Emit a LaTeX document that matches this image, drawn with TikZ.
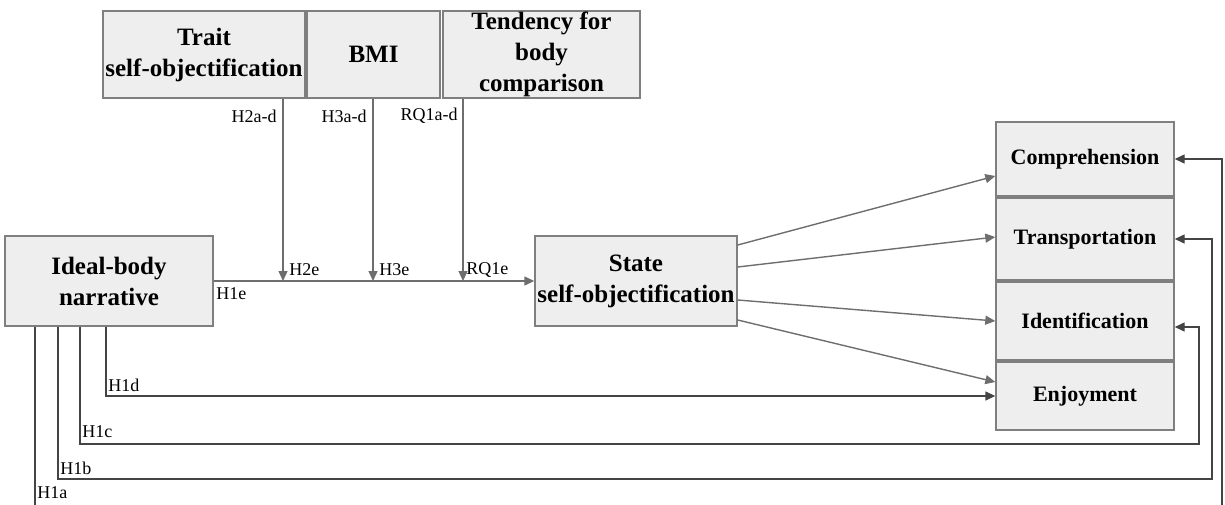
\documentclass[tikz,border=0pt]{standalone}
\usepackage{fontspec}
\setmainfont{Liberation Serif}
\usetikzlibrary{arrows.meta, positioning, calc}
\definecolor{boxfill}{HTML}{EEEEEE}
\definecolor{boxline}{HTML}{7F7F7F}
\definecolor{linegray}{HTML}{6E6E6E}
\definecolor{linedark}{HTML}{444444}
\tikzset{
  varbox/.style = {
    draw       = boxline,
    fill       = boxfill,
    align      = center,
    inner sep  = 0pt,
    line width = 0.7pt,
    font       = \fontsize{12.5}{15.5}\selectfont\bfseries
  },
  outbox/.style = {varbox, minimum width = 89pt, font = \fontsize{11}{13}\selectfont\bfseries},
  hyp/.style    = {inner sep = 1pt, font = \fontsize{9}{10}\selectfont},
  arrow/.style  = {draw = linegray, line width = 0.7pt, -{Triangle[length=5pt, width=4.5pt]}},
  h1path/.style = {arrow, draw = linedark}
}

\begin{document}
\begin{tikzpicture}[x = 0.5pt, y = -0.5pt]
\clip (0,0) rectangle (1225,504);

% Moderators
\node[varbox, minimum width = 101pt, minimum height = 43.5pt] (trait) at (204,54.5) {Trait\\self-objectification};
\node[varbox, minimum width = 66.5pt, minimum height = 43.5pt] (bmi) at (373.5,54.5) {BMI};
\node[varbox, minimum width = 98.5pt, minimum height = 43.5pt] (tendency) at (541.5,54.5) {Tendency for\\body\\comparison};

% Narrative and state
\node[varbox, minimum width = 104pt, minimum height = 45pt] (ideal) at (109,281) {Ideal-body\\narrative};
\node[varbox, minimum width = 101pt, minimum height = 45pt] (state) at (636,281) {State\\self-objectification};

% Outcomes
\node[outbox, minimum height = 37pt] (compr) at (1085,159) {Comprehension};
\node[outbox, minimum height = 41pt] (transp) at (1085,239) {Transportation};
\node[outbox, minimum height = 39pt] (ident) at (1085,321) {Identification};
\node[outbox, minimum height = 34pt] (enjoy) at (1085,396) {Enjoyment};

% Main path with moderators
\coordinate (m2) at (283,281);
\coordinate (m3) at (373,281);
\coordinate (m4) at (463,281);
\draw[arrow] (ideal.east) -- (state.west);
\draw[arrow] (trait.south -| m2) -- (m2);
\draw[arrow] (bmi.south -| m3) -- (m3);
\draw[arrow] (tendency.south -| m4) -- (m4);

\node[hyp, anchor = east] (h2ad) at (279,116) {H2a-d};
\node[hyp, anchor = east] (h3ad) at (369,116) {H3a-d};
\node[hyp, anchor = east] (rq1ad) at (460,116) {RQ1a-d};
\node[hyp, anchor = west] (h2e) at (287,270) {H2e};
\node[hyp, anchor = west] (h3e) at (377,270) {H3e};
\node[hyp, anchor = west] (rq1e) at (464,270) {RQ1e};
\node[hyp, anchor = west] (h1e) at (214,294) {H1e};

% State to outcomes
\draw[arrow] ([yshift=18pt]state.east) -- ([yshift=-8.5pt]compr.west);
\draw[arrow] ([yshift=7pt]state.east) -- ([yshift=1pt]transp.west);
\draw[arrow] ([yshift=-9.5pt]state.east) -- (ident.west);
\draw[arrow] ([yshift=-19.5pt]state.east) -- ([yshift=7pt]enjoy.west);

% Direct effects
\coordinate (c1) at (1199,444);
\coordinate (b1) at (1212,479);
\coordinate (a1) at (1222,520);
\draw[h1path] ([xshift=-1.5pt]ideal.south) |- (enjoy.west);
\draw[h1path] ([xshift=-14.5pt]ideal.south) |- (c1) |- ([yshift=-3pt]ident.east);
\draw[h1path] ([xshift=-25.5pt]ideal.south) |- (b1) |- (transp.east);
\draw[h1path] ([xshift=-37pt]ideal.south) |- (a1) |- (compr.east);

\node[hyp, anchor = west] (h1d) at (106,385) {H1d};
\node[hyp, anchor = west] (h1c) at (80,432) {H1c};
\node[hyp, anchor = west] (h1b) at (58,468) {H1b};
\node[hyp, anchor = west] (h1a) at (35,493) {H1a};

\end{tikzpicture}
\end{document}
